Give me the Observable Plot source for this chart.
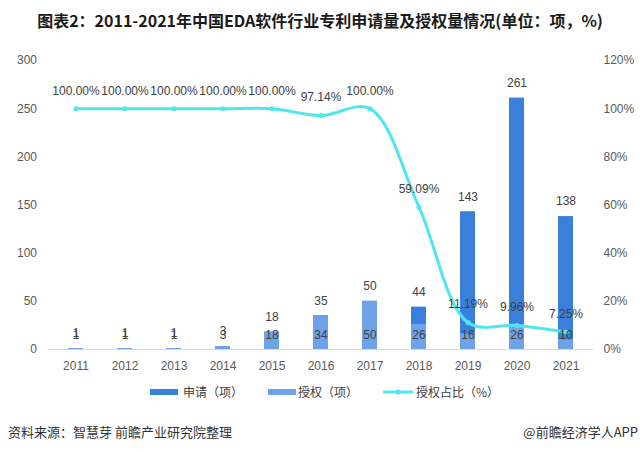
<!DOCTYPE html>
<html>
<head>
<meta charset="utf-8">
<script src="https://cdn.jsdelivr.net/npm/d3@7"></script>
<script src="https://cdn.jsdelivr.net/npm/@observablehq/plot@0.6"></script>
<style>
  body{margin:0;width:640px;height:452px;position:relative;background:#fff;overflow:hidden;font-family:"Noto Sans CJK SC","Liberation Sans",sans-serif;}
  #title{position:absolute;left:0;top:0;width:640px;height:40px;line-height:40px;text-align:center;font-weight:bold;font-size:16px;color:#1a1a1a;}
  #chart{position:absolute;left:0;top:40px;}
  .lg{position:absolute;top:383px;height:18px;line-height:18px;font-size:12px;color:#404040;white-space:nowrap;}
  .sw{position:absolute;top:6px;width:28px;height:6px;}
  .src{position:absolute;top:423px;height:18px;line-height:18px;font-size:13px;color:#333;white-space:nowrap;}
</style>
</head>
<body>
<div id="title">图表2：2011-2021年中国EDA软件行业专利申请量及授权量情况(单位：项，%)</div>
<div id="chart"></div>
<div class="lg" style="left:150px;width:120px;"><span class="sw" style="left:0;background:#3b7fdc;"></span><span style="position:absolute;left:33px;">申请（项）</span></div>
<div class="lg" style="left:268px;width:110px;"><span class="sw" style="left:0;background:#6ea3ea;"></span><span style="position:absolute;left:30px;">授权（项）</span></div>
<div class="lg" style="left:383px;width:130px;"><svg style="position:absolute;left:0;top:0" width="32" height="18"><line x1="0" y1="9" x2="30" y2="9" stroke="#4fe6f0" stroke-width="3"/><circle cx="15" cy="9" r="2.5" fill="#4fe6f0"/></svg><span style="position:absolute;left:33px;">授权占比（%）</span></div>
<div class="src" style="left:8px;">资料来源：智慧芽 前瞻产业研究院整理</div>
<div class="src" style="right:2px;">@前瞻经济学人APP</div>
<script>
const years = ["2011","2012","2013","2014","2015","2016","2017","2018","2019","2020","2021"];
const applications = [1, 1, 1, 3, 18, 35, 50, 44, 143, 261, 138];
const grants = [1, 1, 1, 3, 18, 34, 50, 26, 16, 26, 10];
const grantRatio = [100, 100, 100, 100, 100, 97.14, 100, 59.09, 11.19, 9.96, 7.25];
const leftTicks = [0, 50, 100, 150, 200, 250, 300];
const rightTicks = [0, 20, 40, 60, 80, 100, 120];

const leftMax = 300, rightMax = 120, k = leftMax / rightMax;
const rows = years.map((year, i) => ({
  year,
  app: applications[i],
  grant: grants[i],
  ratio: grantRatio[i],
  ratioY: grantRatio[i] * k
}));

const cyan = "#4fe6f0";
const chart = Plot.plot({
  width: 640,
  height: 340,
  marginTop: 20,
  marginBottom: 31,
  marginLeft: 47.5,
  marginRight: 47,
  style: {fontFamily: "'Liberation Sans','Noto Sans CJK SC',sans-serif", fontSize: "12px", background: "transparent"},
  x: {domain: years, paddingInner: 0.7, paddingOuter: 0.35, axis: null},
  y: {domain: [0, leftMax], axis: null},
  marks: [
    Plot.axisX({tickSize: 0, tickPadding: 12, label: null, color: "#595959", fontSize: 12}),
    Plot.axisY(leftTicks, {anchor: "left", tickSize: 0, tickPadding: 11, label: null, color: "#595959", fontSize: 12}),
    Plot.axisY(rightTicks.map(v => v * k), {anchor: "right", tickSize: 0, tickPadding: 10, label: null, color: "#595959", fontSize: 12, tickFormat: d => Math.round(d / k) + "%"}),
    Plot.ruleY([0], {stroke: "#d9d9d9"}),
    Plot.barY(rows, {x: "year", y: "app", fill: "#3b7fdc"}),
    Plot.barY(rows, {x: "year", y: "grant", fill: "#6ea3ea"}),
    Plot.line(rows, {x: "year", y: "ratioY", stroke: cyan, strokeWidth: 3, curve: "catmull-rom"}),
    Plot.dot(rows, {x: "year", y: "ratioY", r: 2.5, fill: cyan}),
    Plot.text(rows, {x: "year", y: "app", text: d => String(d.app), dy: -15, fill: "#404040", fontSize: 12}),
    Plot.text(rows, {x: "year", y: 0, text: d => String(d.grant), dy: -14, fill: "#404040", fontSize: 12}),
    Plot.text(rows, {x: "year", y: "ratioY", text: d => d.ratio.toFixed(2) + "%", dy: -18, fill: "#404040", fontSize: 12})
  ]
});
document.getElementById("chart").appendChild(chart);
</script>
</body>
</html>
